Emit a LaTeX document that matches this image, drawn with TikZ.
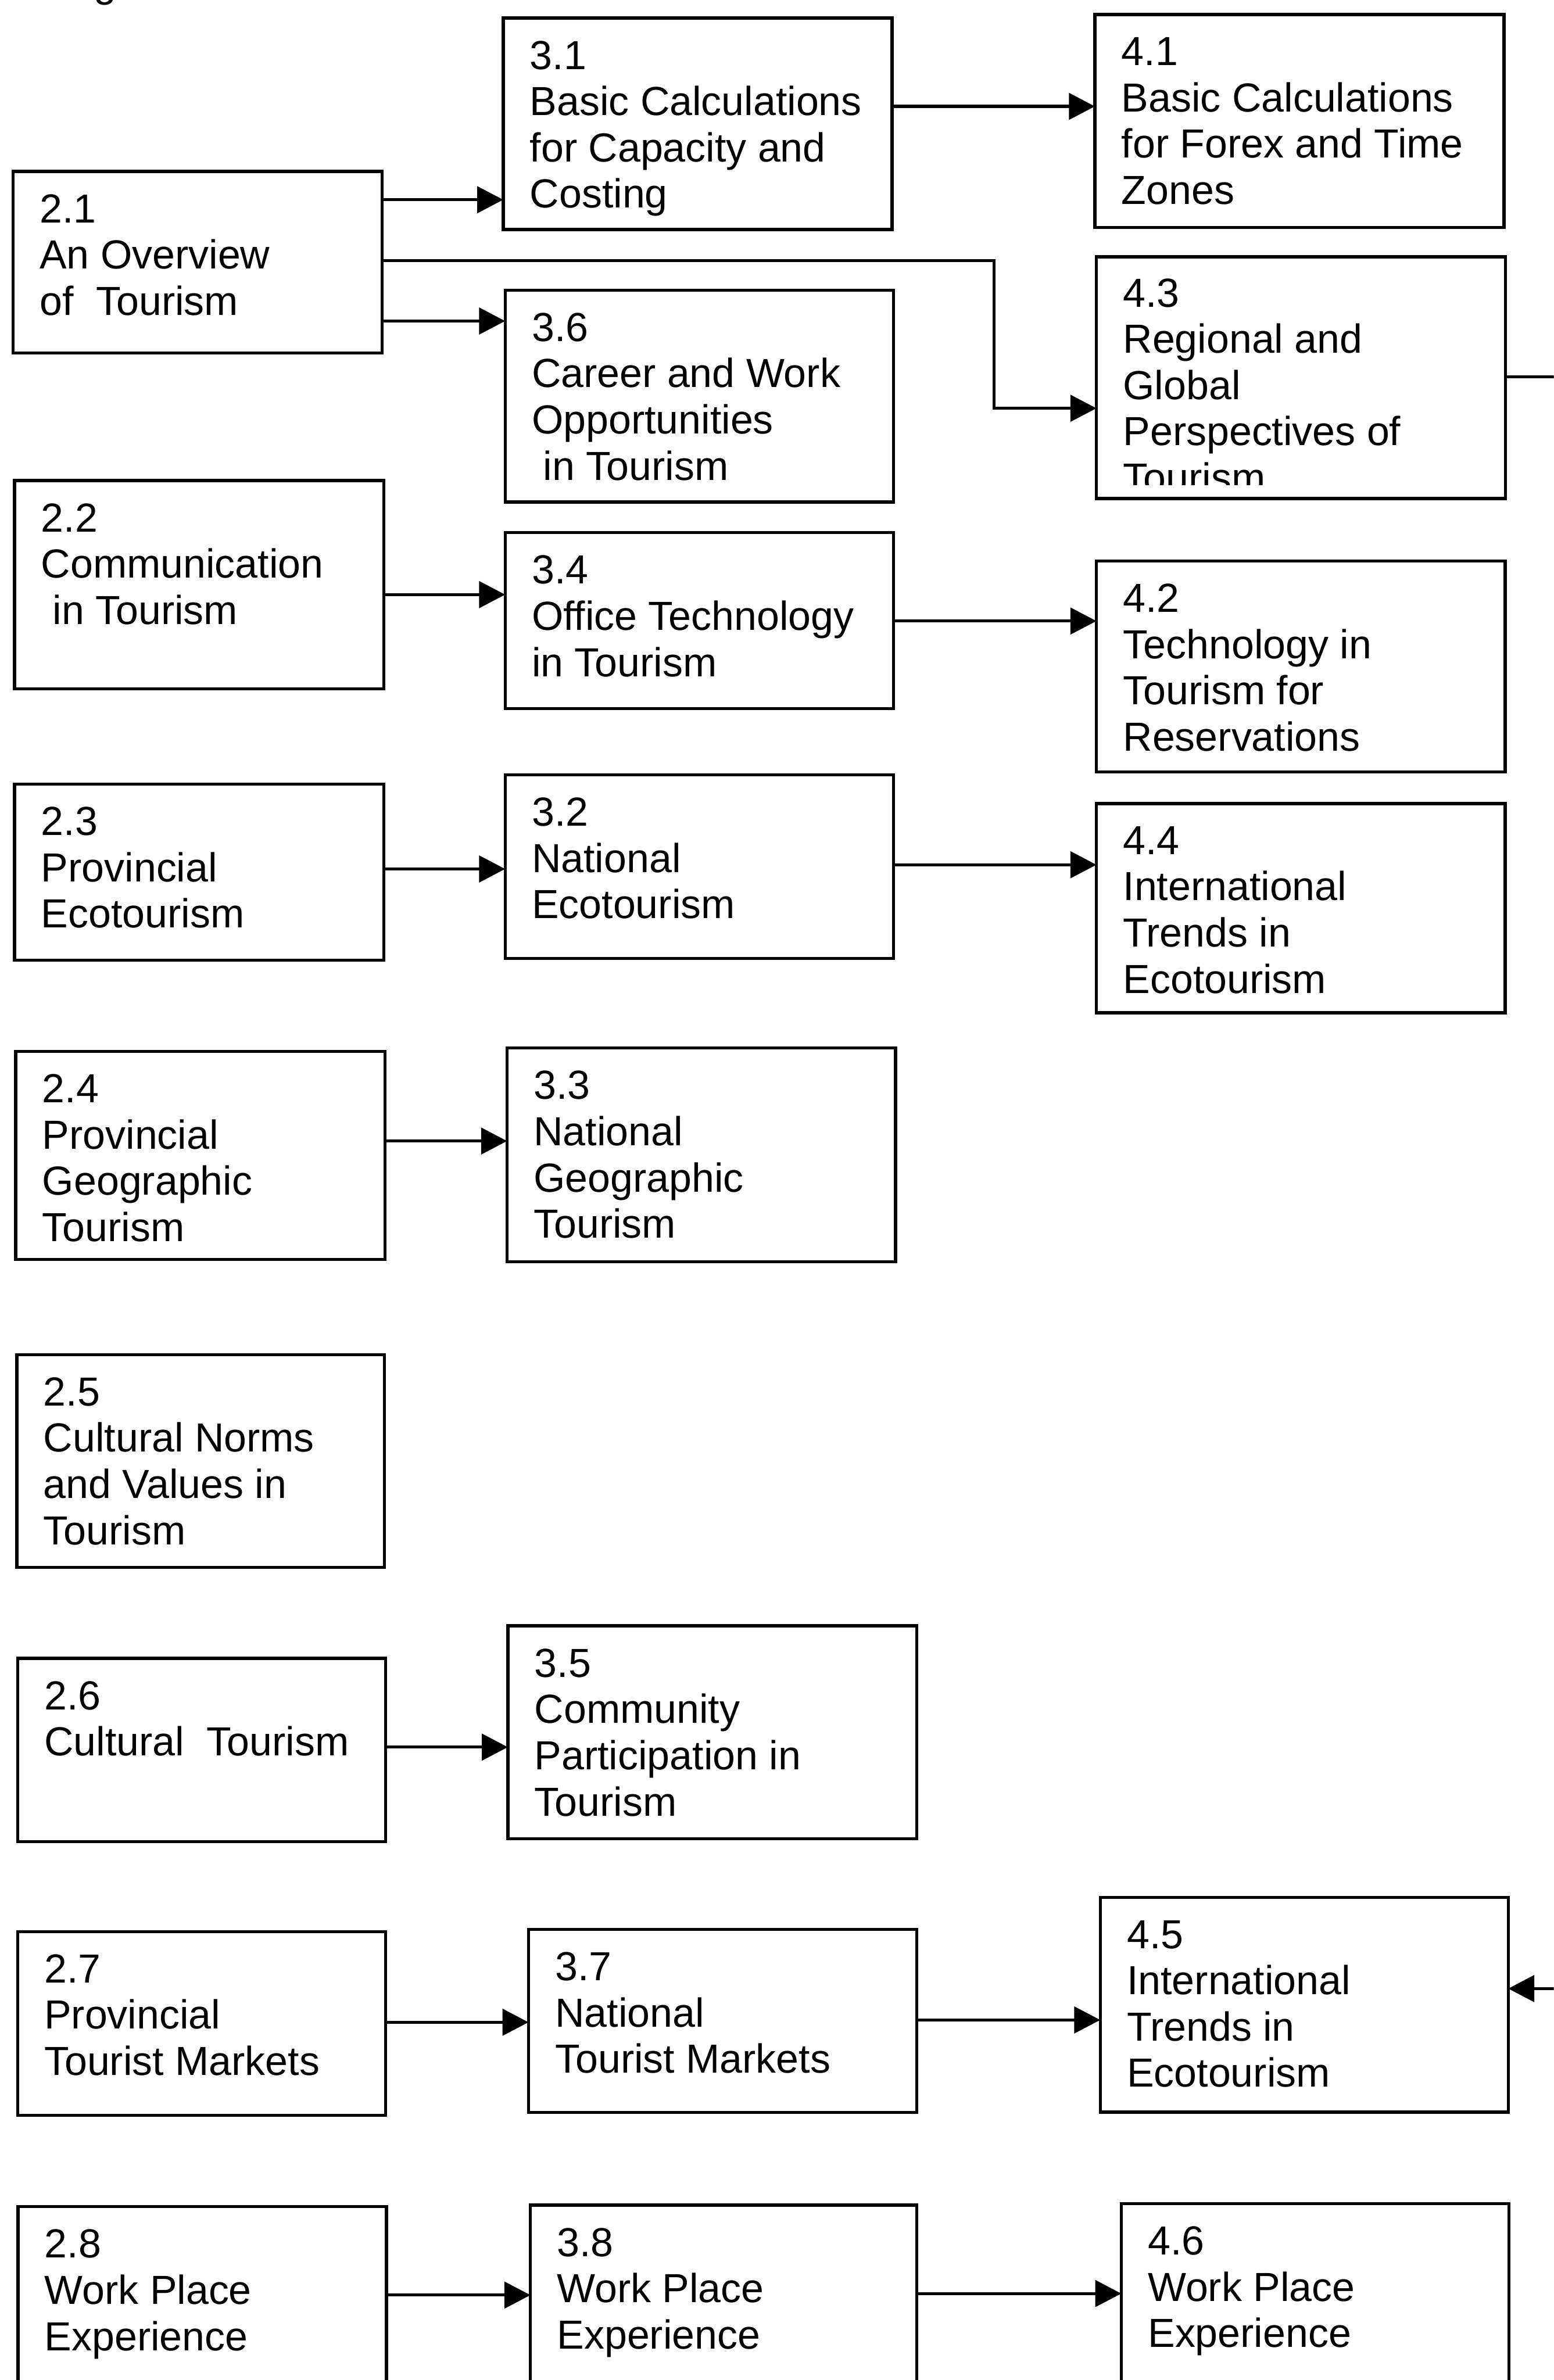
\documentclass[tikz,border=0pt]{standalone}
\usepackage{fontspec}
\setmainfont{Liberation Sans}
\usetikzlibrary{arrows.meta,calc}

\tikzset{
  topic/.style={draw, line width=0.8mm, rectangle, inner sep=0pt, outer sep=0pt, anchor=north west},
  topictext/.style={anchor=north west, inner sep=0pt, align=left,
                    font=\fontsize{30.2}{34.4}\selectfont},
  link/.style={line width=0.8mm, -{Triangle[length=6.8mm,width=6.9mm]}},
  plainlink/.style={line width=0.8mm},
}

% #1 name, #2 x, #3 y (top-left, mm, y downwards), #4 width, #5 height, #6 text
\newcommand\topicbox[6]{%
  \node[topic, minimum width=#4mm, minimum height=#5mm] (#1) at (#2,#3) {};
  \node[topictext] (#1-t) at ([xshift=6.9mm,yshift=-5.9mm]#1.north west) {#6};
}

\begin{document}
\begin{tikzpicture}[x=1mm, y=-1mm]
\useasboundingbox (0,0) rectangle (406,622);
\clip (0,0) rectangle (406,622);

% descender of a caption line above the chart
\node[topictext, anchor=base west] (capfrag) at (24.4,-0.8) {g};

% year 2 column
\topicbox{b21}{3.4}{44.8}{96.4}{47.4}{2.1\\An Overview\\of~ Tourism}
\topicbox{b22}{3.8}{125.6}{96.5}{54.4}{2.2\\Communication\\\hspace*{.28em}in Tourism}
\topicbox{b23}{3.8}{204.9}{96.5}{46.0}{2.3\\Provincial\\Ecotourism}
\topicbox{b24}{4.1}{274.8}{96.5}{54.3}{2.4\\Provincial\\Geographic\\Tourism}
\topicbox{b25}{4.4}{354.0}{96.0}{55.6}{2.5\\Cultural Norms\\and Values in\\Tourism}
\topicbox{b26}{4.6}{433.4}{96.2}{47.9}{2.6\\Cultural~ Tourism}
\topicbox{b27}{4.6}{504.8}{96.2}{48.0}{2.7\\Provincial\\Tourist Markets}
\topicbox{b28}{4.7}{576.7}{96.3}{60}{2.8\\Work Place\\Experience}

% year 3 column
\topicbox{b31}{131.5}{4.7}{101.6}{55.3}{3.1\\Basic Calculations\\for Capacity and\\Costing}
\topicbox{b36}{132.0}{75.8}{101.5}{55.4}{3.6\\Career and Work\\Opportunities\\\hspace*{.28em}in Tourism}
\topicbox{b34}{132.0}{139.2}{101.5}{46.0}{3.4\\Office Technology\\in Tourism}
\topicbox{b32}{132.0}{202.5}{101.5}{48.0}{3.2\\National\\Ecotourism}
\topicbox{b33}{132.5}{273.9}{101.5}{55.9}{3.3\\National\\Geographic\\Tourism}
\topicbox{b35}{132.7}{424.9}{106.8}{55.6}{3.5\\Community\\Participation in\\Tourism}
\topicbox{b37}{138.1}{504.2}{101.4}{47.9}{3.7\\National\\Tourist Markets}
\topicbox{b38}{138.6}{576.3}{101.0}{60}{3.8\\Work Place\\Experience}

% year 4 column
\topicbox{b41}{286.1}{3.8}{106.9}{55.6}{4.1\\Basic Calculations\\for Forex and Time\\Zones}
\node[topic, minimum width=106.9mm, minimum height=63.2mm] (b43) at (286.5,67.1) {};
\begin{scope}
  \clip (b43.north west) rectangle ([yshift=3.6mm]b43.south east);
  \node[topictext] (b43-t) at ([xshift=6.9mm,yshift=-5.6mm]b43.north west)
    {4.3\\Regional and\\Global\\Perspectives of\\Tourism};
\end{scope}
\topicbox{b42}{286.5}{146.6}{106.8}{55.1}{4.2\\Technology in\\Tourism for\\Reservations}
\topicbox{b44}{286.5}{210.0}{106.8}{54.7}{4.4\\International\\Trends in\\Ecotourism}
\topicbox{b45}{287.5}{495.9}{106.6}{56.1}{4.5\\International\\Trends in\\Ecotourism}
\topicbox{b46}{293.0}{575.9}{101.3}{60}{4.6\\Work Place\\Experience}

% free ends at the right border
\coordinate (out43) at (406,98.5);
\coordinate (in45) at (406,519.7);

% connectors
\draw[link] (b21.east |- 0,52.2) -- (b31.west |- 0,52.2);
\draw[link] (b31.east |- 0,27.8) -- (b41.west |- 0,27.8);
\draw[link] (b21.east |- 0,83.9) -- (b36.west |- 0,83.9);
\draw[link] (b21.east |- 0,68.1) -- (259.7,68.1) -- (259.7,106.7) -- (b43.west |- 0,106.7);
\draw[plainlink] (b43.east |- out43) -- (out43);
\draw[link] (in45) -- (b45.east |- in45);
\draw[link] (b22.east |- 0,155.4) -- (b34.west |- 0,155.4);
\draw[link] (b34.east |- 0,162.3) -- (b42.west |- 0,162.3);
\draw[link] (b23.east |- 0,227.1) -- (b32.west |- 0,227.1);
\draw[link] (b32.east |- 0,226.0) -- (b44.west |- 0,226.0);
\draw[link] (b24.east |- 0,298.2) -- (b33.west |- 0,298.2);
\draw[link] (b26.east |- 0,456.6) -- (b35.west |- 0,456.6);
\draw[link] (b27.east |- 0,528.5) -- (b37.west |- 0,528.5);
\draw[link] (b37.east |- 0,527.9) -- (b45.west |- 0,527.9);
\draw[link] (b28.east |- 0,599.8) -- (b38.west |- 0,599.8);
\draw[link] (b38.east |- 0,599.4) -- (b46.west |- 0,599.4);
\end{tikzpicture}
\end{document}
